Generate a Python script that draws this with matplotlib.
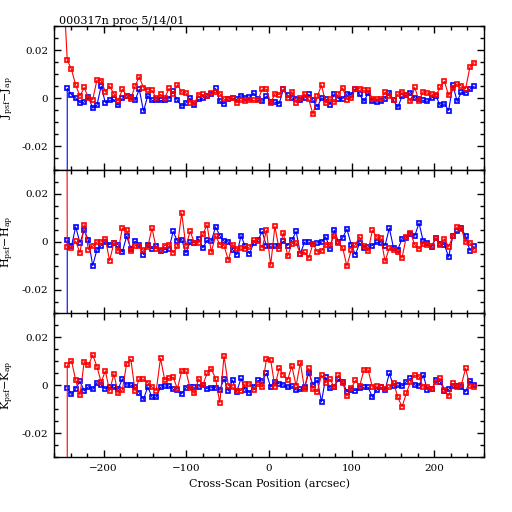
import matplotlib
matplotlib.use("Agg")
import matplotlib.pyplot as plt
from matplotlib.ticker import MultipleLocator
import numpy as np

# cross-scan positions (arcsec), shared by every series
x_pos = [-244.0, -238.9, -233.8, -228.6, -223.5, -218.4, -213.2, -208.1, -203.0, -197.9,
         -192.8, -187.6, -182.5, -177.4, -172.2, -167.1, -162.0, -156.9, -151.8, -146.6,
         -141.5, -136.4, -131.2, -126.1, -121.0, -115.9, -110.8, -105.6, -100.5, -95.4,
         -90.2, -85.1, -80.0, -74.9, -69.8, -64.6, -59.5, -54.4, -49.2, -44.1,
         -39.0, -33.9, -28.8, -23.6, -18.5, -13.4, -8.2, -3.1, 2.0, 7.1,
         12.2, 17.4, 22.5, 27.6, 32.8, 37.9, 43.0, 48.1, 53.2, 58.4,
         63.5, 68.6, 73.8, 78.9, 84.0, 89.1, 94.2, 99.4, 104.5, 109.6,
         114.8, 119.9, 125.0, 130.1, 135.2, 140.4, 145.5, 150.6, 155.8, 160.9,
         166.0, 171.1, 176.2, 181.4, 186.5, 191.6, 196.8, 201.9, 207.0, 212.1,
         217.2, 222.4, 227.5, 232.6, 237.8, 242.9, 248.0]

# J band
j_red = [0.0158, 0.012, 0.0054, 0.0008, 0.0044, 0.0, -0.0007, 0.0075, 0.0073, 0.0025,
         0.005, 0.0018, -0.0013, 0.0037, 0.001, -0.0003, 0.005, 0.0089, 0.0042, 0.0035,
         0.0032, 0.0, 0.0015, 0.0, 0.004, 0.0018, 0.0056, 0.0025, 0.0022, -0.002,
         -0.0022, 0.0014, 0.0015, 0.0008, 0.002, 0.0024, 0.0018, -0.0006, -0.0003, 0.0,
         -0.002, -0.0008, -0.0014, -0.001, -0.001, -0.0008,
         0.0037, 0.0037, -0.0021, 0.0018, 0.0014, 0.0037, 0.0, 0.0027, -0.002, 0.0,
         0.0018, -0.0006, -0.0068, 0.0007, 0.0054, -0.0021, -0.0003, -0.0017, 0.0018, 0.0042,
         -0.0007, 0.0, 0.0039, 0.0039, 0.0032, 0.0034, -0.0003, -0.0003, -0.0006, 0.0025,
         0.0008, -0.0007, 0.0015, 0.0027, 0.0014, -0.0014, 0.0045, -0.0011, 0.0027, 0.002,
         0.0017, 0.0011, 0.0044, 0.007, 0.0011, 0.0042, 0.0059, 0.0051, 0.0039, 0.0128,
         0.0148]
j_blue = [0.004, 0.0014, 0.0, -0.002, -0.0017, 0.0004, -0.0042, -0.003, 0.005, -0.002,
          -0.001, -0.0006, -0.003, 0.0, 0.001, 0.0004, -0.001, 0.0037, -0.0055, 0.001,
          -0.001, -0.001, -0.001, -0.001, -0.0003, 0.0028, -0.001, -0.0034, -0.002, 0.0,
          -0.003, -0.0006, 0.0, 0.0008, 0.0018, 0.004, -0.0014, -0.0024, -0.0003, 0.0,
          -0.0006, 0.001, 0.0, 0.0004, 0.002, -0.0003,
          -0.0014, 0.0008, -0.0017, -0.0017, -0.0024, 0.0037, 0.0011, 0.0, -0.0003, -0.001,
          0.0, 0.0015, -0.001, -0.0038, 0.0, -0.0003, -0.0028, 0.0018, -0.0003, -0.0003,
          0.0018, 0.0014, 0.0039, 0.0015, -0.0014, 0.0021, -0.0014, -0.0017, -0.0014, -0.0003,
          0.0023, -0.001, -0.0039, 0.0008, 0.0011, 0.0023, 0.0, -0.0003, -0.001, -0.0014,
          0.0001, 0.0008, -0.0031, -0.0024, -0.0052, 0.0054, -0.0014, 0.0025, 0.0021, 0.0037,
          0.0049]

# H band
h_red = [-0.0021, -0.0025, 0.0003, -0.0046, 0.0072, -0.0032, -0.0018, 0.0, 0.0, 0.0013,
         -0.0078, -0.0004, -0.0039, 0.0058, 0.0051, -0.0039, -0.0015, -0.0015, -0.0035, -0.0021,
         0.0058, -0.0028, -0.0032, -0.0015, -0.0011, -0.0046, -0.0018, 0.0121, -0.0018, 0.0044,
         -0.0004, -0.0004, 0.0031, 0.0072, -0.0043, 0.0026, -0.0011, -0.0015, -0.0076, -0.0011,
         -0.0029, -0.0025, -0.0029, -0.0021, 0.0007, 0.0003,
         -0.0025, 0.0049, -0.0097, 0.0065, -0.0029, 0.0038, -0.006, -0.0007, -0.0004, -0.005,
         -0.0043, -0.0067, -0.0007, -0.0042, -0.0039, -0.0011, -0.0011, 0.0026, -0.0004, -0.0025,
         -0.0101, -0.0035, -0.0011, 0.0021, -0.0018, -0.0039, 0.0049, 0.0021, 0.0017, -0.0081,
         -0.0025, -0.0032, -0.0043, -0.0067, 0.0021, 0.0038, -0.0011, -0.0029, -0.0007, -0.0011,
         -0.0015, 0.0017, -0.0011, 0.0013, -0.0021, 0.0024, 0.0063, 0.0054, 0.0, -0.0004,
         -0.0035]
h_blue = [0.0007, -0.0018, 0.0063, -0.0004, 0.0049, 0.0007, -0.0099, -0.0032, -0.0015, 0.0,
          -0.0011, -0.0004, -0.0011, -0.0043, 0.0024, -0.0028, 0.0003, -0.0011, -0.0053, -0.0011,
          -0.0029, -0.0018, -0.0039, -0.0032, -0.0029, 0.0044, 0.0003, 0.001, -0.0046, 0.0,
          -0.0004, 0.0013, -0.0025, 0.0007, 0.0003, 0.0063, 0.0026, 0.0003, 0.0, -0.0032,
          -0.0053, 0.0026, -0.0018, -0.0049, -0.0004, 0.0007,
          0.0044, -0.0018, -0.0018, -0.0018, -0.0015, 0.0003, -0.0015, 0.0007, 0.0044, -0.0049,
          -0.0001, -0.0001, -0.0007, -0.0004, -0.0001, 0.0021, -0.0029, 0.0049, -0.0001, 0.0017,
          0.0054, -0.0011, -0.0053, -0.0004, -0.0025, -0.0021, -0.0015, -0.0001, -0.0004, -0.0015,
          0.0058, -0.0025, -0.0032, 0.0013, 0.0017, 0.0031, 0.0024, 0.0079, 0.0003, -0.0004,
          -0.0021, 0.0017, -0.0007, -0.0011, -0.0063, 0.0026, 0.0044, 0.0058, 0.0024, -0.0036,
          -0.0018]

# K band
k_red = [0.0083, 0.0102, 0.0022, -0.0041, 0.0099, 0.0083, 0.0127, 0.0078, 0.0013, 0.006,
         -0.0024, 0.0048, -0.0034, -0.002, 0.009, 0.0109, -0.0024, 0.0027, 0.0025, 0.0011,
         -0.0008, -0.0022, 0.0113, 0.0022, 0.0029, 0.0034, -0.0015, 0.006, 0.006, -0.0013,
         -0.0034, 0.0027, 0.0001, 0.005, 0.0069, 0.0027, -0.0073, 0.0123, -0.0001, -0.0008,
         -0.0022, -0.0022, 0.0006, 0.0006, -0.002, 0.0006,
         -0.0008, 0.011, 0.0106, -0.0006, 0.0071, 0.0043, 0.0022, 0.0081, -0.0003, 0.0095,
         -0.0017, 0.0071, -0.0017, -0.0027, 0.0043, 0.0011, 0.0025, -0.0008, 0.0043, 0.0011,
         -0.0045, -0.0013, 0.002, -0.0003, 0.0064, 0.0064, -0.0008, -0.0003, -0.0008, -0.0017,
         -0.0008, 0.0011, -0.005, -0.009, -0.0034, 0.0015, 0.0043, 0.0036, -0.0008, -0.0006,
         -0.0017, 0.0015, 0.0029, -0.002, -0.0045, 0.0008, -0.0006, 0.0001, 0.0071, -0.0003,
         -0.0008]
k_blue = [-0.001, -0.0038, -0.0015, 0.0018, -0.0024, -0.0006, -0.0017, 0.0011, 0.0001, -0.0015,
          -0.0008, -0.0008, -0.0017, 0.0027, 0.0001, 0.0001, -0.0008, -0.0031, -0.0059, -0.0006,
          -0.005, -0.005, -0.0008, -0.0003, -0.0003, -0.0017, -0.002, -0.0036, -0.001, -0.0008,
          -0.0008, -0.0008, 0.0001, -0.0015, -0.001, -0.001, -0.002, 0.0027, -0.0024, 0.0022,
          -0.0027, 0.0029, -0.002, -0.0031, -0.0006, 0.002,
          0.0018, 0.005, -0.0008, 0.0015, 0.0006, 0.0001, -0.0008, -0.0003, -0.002, -0.0017,
          -0.0008, 0.0053, 0.0001, 0.0022, -0.0069, 0.0034, -0.0013, -0.0006, 0.0025, 0.0015,
          -0.0027, -0.002, -0.0022, -0.0013, -0.0008, -0.0008, -0.005, -0.002, -0.0008, -0.002,
          0.005, -0.0003, 0.0001, -0.0003, 0.0015, 0.0029, 0.0001, -0.0003, 0.0043, -0.002,
          -0.0017, 0.002, 0.0015, -0.0022, -0.0017, -0.0003, -0.0003, -0.0008, -0.0027, 0.0018,
          0.0001]

# first scan point of each series is far off scale
j_red_lead = [-249.1, 0.05]
j_blue_lead = [-244.0, -0.2]
h_red_lead = [-245.5, 0.3]
h_blue_lead = [-244.0, -0.2]
k_red_lead = [-244.0, -0.2]
k_blue_lead = None

ylabels = [r"J$_{\rm psf}$$-$J$_{\rm ap}$", r"H$_{\rm psf}$$-$H$_{\rm ap}$", r"K$_{\rm psf}$$-$K$_{\rm ap}$"]
title = "000317n proc 5/14/01"
xlabel = "Cross-Scan Position (arcsec)"

plt.rcParams['font.family'] = ['DejaVu Serif']
plt.rcParams['mathtext.fontset'] = 'dejavuserif'

fig = plt.figure(figsize=(5.12, 5.12), dpi=100)

panels = [
    (j_blue, j_red, j_blue_lead, j_red_lead),
    (h_blue, h_red, h_blue_lead, h_red_lead),
    (k_blue, k_red, k_blue_lead, k_red_lead),
]
bottoms = [0.668, 0.387, 0.107]
height = 0.281
left, width = 0.1055, 0.8398


def series(lead, vals):
    xs = list(x_pos)
    ys = list(vals)
    if lead is not None:
        xs = [lead[0]] + xs
        ys = [lead[1]] + ys
    return xs, ys


axes = []
for i, (blue, red, blead, rlead) in enumerate(panels):
    ax = fig.add_axes([left, bottoms[i], width, height])
    for vals, lead, col in [(blue, blead, '#0000ff'), (red, rlead, '#ff0000')]:
        xs, ys = series(lead, vals)
        ax.plot(xs, ys, color=col, lw=0.8, marker='s', ms=3.4, mfc='none',
                mec=col, mew=1.2)
    ax.set_xlim(-260, 260)
    ax.set_ylim(-0.03, 0.03)
    ax.xaxis.set_major_locator(MultipleLocator(100))
    ax.xaxis.set_minor_locator(MultipleLocator(20))
    ax.yaxis.set_major_locator(MultipleLocator(0.02))
    ax.yaxis.set_minor_locator(MultipleLocator(0.005))
    ax.yaxis.set_major_formatter(plt.FuncFormatter(lambda v, p: "0" if abs(v) < 1e-9 else "%g" % v))
    ax.tick_params(which='both', direction='in', top=True, right=True, labelsize=7.5, width=1.0)
    ax.tick_params(which='major', length=5, pad=4)
    ax.tick_params(which='minor', length=3)
    for sp in ax.spines.values():
        sp.set_linewidth(1.0)
    if i < 2:
        ax.tick_params(labelbottom=False)
    fig.text(0.016, bottoms[i] + height / 2, ylabels[i], rotation=90,
             ha='center', va='center', fontsize=8)
    axes.append(ax)

axes[2].tick_params(axis='x', pad=5)
axes[2].set_xlabel(xlabel, fontsize=8, labelpad=4)
fig.text(0.115, 0.95, title, fontsize=8, ha='left', va='bottom')

fig.savefig("out.png", dpi=100)
